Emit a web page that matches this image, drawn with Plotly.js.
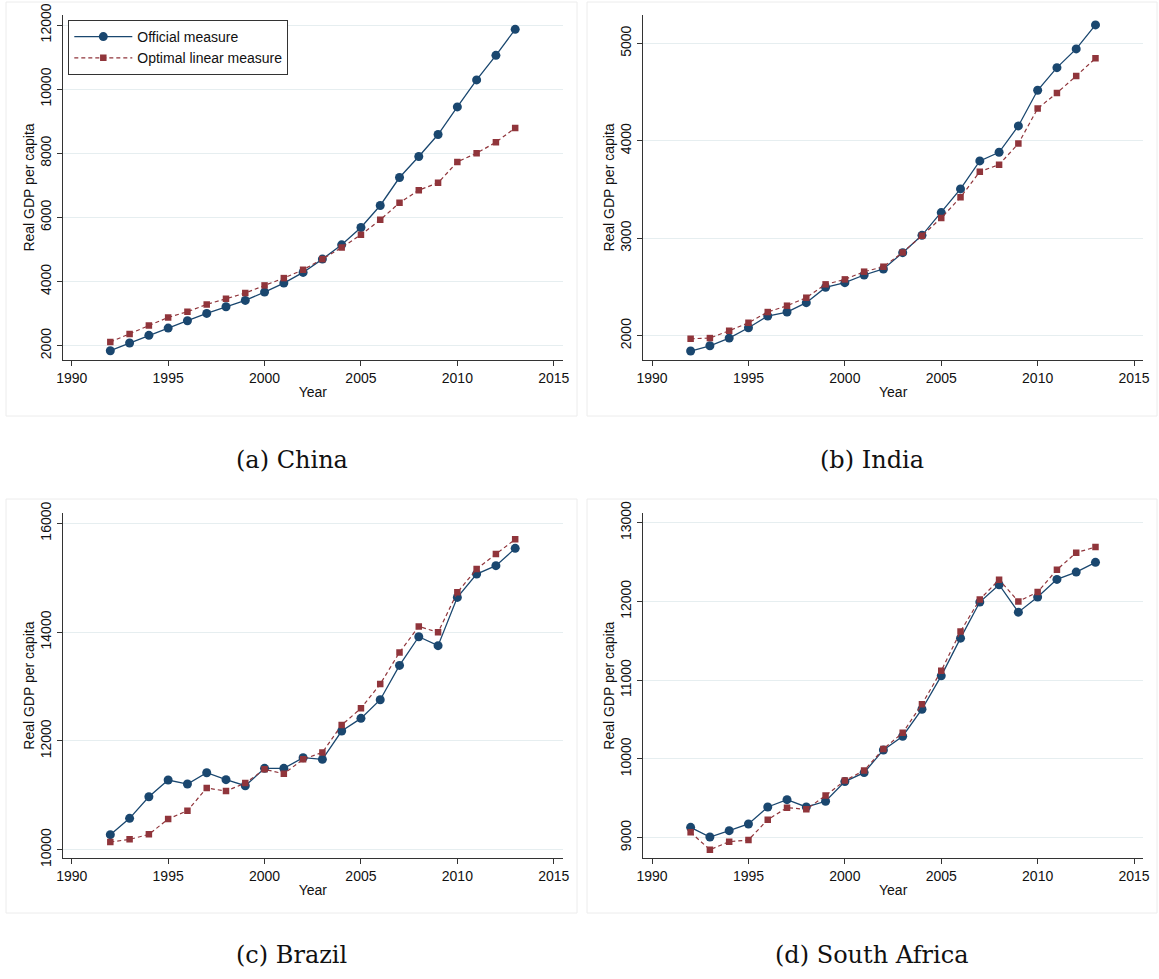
<!DOCTYPE html>
<html>
<head>
<meta charset="utf-8">
<script src="https://cdn.plot.ly/plotly-3.0.1.min.js"></script>
<style>html,body{margin:0;padding:0;background:#fff;}#chart{width:1159px;height:979px;}</style>
</head>
<body>
<div id="chart"></div>
<script>
// ---- data ----
var years = [1992,1993,1994,1995,1996,1997,1998,1999,2000,2001,2002,2003,2004,2005,2006,2007,2008,2009,2010,2011,2012,2013];

var chinaOfficial = [1844,2083,2322,2550,2779,3007,3215,3412,3672,3952,4285,4700,5146,5686,6372,7244,7898,8584,9445,10287,11055,11865];
var chinaOptimal  = [2114,2363,2633,2883,3059,3288,3464,3641,3880,4108,4368,4700,5063,5458,5925,6455,6849,7078,7732,8002,8345,8791];

var indiaOfficial = [1843,1897,1976,2082,2202,2243,2339,2496,2544,2623,2685,2852,3030,3263,3506,3793,3882,4152,4518,4750,4942,5188];
var indiaOptimal  = [1969,1976,2051,2133,2243,2308,2390,2527,2578,2657,2708,2855,3026,3208,3420,3683,3755,3971,4330,4491,4665,4846];

var brazilOfficial = [10276,10576,10974,11281,11207,11415,11287,11176,11495,11495,11691,11661,12181,12414,12757,13388,13915,13750,14638,15067,15221,15539];
var brazilOptimal  = [10141,10190,10282,10564,10717,11134,11078,11225,11477,11397,11661,11789,12292,12598,13045,13627,14105,13995,14730,15159,15435,15705];

var saOfficial = [9131,9008,9089,9174,9390,9483,9390,9462,9712,9826,10114,10288,10631,11055,11534,11992,12212,11864,12055,12280,12373,12496];
var saOptimal  = [9068,8847,8949,8970,9229,9381,9360,9534,9725,9852,10127,10331,10695,11119,11619,12025,12275,12000,12119,12403,12619,12691];

var seriesNames = ["Official measure", "Optimal linear measure"];
var captions = ["(a) China", "(b) India", "(c) Brazil", "(d) South Africa"];
var xTicks = [1990,1995,2000,2005,2010,2015];
var yTicksChina = [2000,4000,6000,8000,10000,12000];
var yTicksIndia = [2000,3000,4000,5000];
var yTicksBrazil = [10000,12000,14000,16000];
var yTicksSA = [9000,10000,11000,12000,13000];
var xTitle = "Year";
var yTitle = "Real GDP per capita";

// ---- styling ----
var W = 1159, H = 979;
var NAVY = "#1a476f", MAROON = "#90353b";
var panels = [
  {off: chinaOfficial, opt: chinaOptimal, yt: yTicksChina, yr: [1554, 12312]},
  {off: indiaOfficial, opt: indiaOptimal, yt: yTicksIndia, yr: [1751, 5290]},
  {off: brazilOfficial, opt: brazilOptimal, yt: yTicksBrazil, yr: [9842, 16189]},
  {off: saOfficial, opt: saOptimal, yt: yTicksSA, yr: [8738, 13123]}
];
// pixel boxes of axes (left, right, top, bottom)
var boxes = [
  [62.7, 563, 15, 360],
  [643, 1143.3, 15, 360],
  [62.7, 563, 513, 858.3],
  [643, 1143.3, 513, 858.3]
];
var frames = [[6,577,2,416],[587,1157,2,416],[6,577,499,913],[587,1157,499,913]];
var capPos = [[291.5,459.5],[872,459.5],[291.5,955],[872,955]];

var traces = [];
var layout = {
  width: W, height: H,
  margin: {l:0, r:0, t:0, b:0},
  paper_bgcolor: "#fff", plot_bgcolor: "#fff",
  font: {family: "Liberation Sans, Arial, sans-serif", size: 14, color: "#111"},
  showlegend: true,
  legend: {
    x: 68.3/W, y: 1 - 20/H, xanchor: "left", yanchor: "top",
    bordercolor: "#333", borderwidth: 1, bgcolor: "#fff",
    font: {size: 14, color: "#111"}, itemwidth: 58, tracegroupgap: 0
  },
  shapes: [], annotations: []
};

panels.forEach(function(p, i){
  var n = i === 0 ? "" : String(i+1);
  var b = boxes[i];
  traces.push({
    x: years, y: p.off, type: "scatter", mode: "lines+markers",
    name: seriesNames[0], showlegend: i === 0, legendgroup: "off",
    xaxis: "x"+n, yaxis: "y"+n,
    line: {color: NAVY, width: 1.3},
    marker: {symbol: "circle", size: 9, color: NAVY}
  });
  traces.push({
    x: years, y: p.opt, type: "scatter", mode: "lines+markers",
    name: seriesNames[1], showlegend: i === 0, legendgroup: "opt",
    xaxis: "x"+n, yaxis: "y"+n,
    line: {color: MAROON, width: 1.2, dash: "4px,3px"},
    marker: {symbol: "square", size: 6.5, color: MAROON}
  });
  layout["xaxis"+n] = {
    domain: [b[0]/W, b[1]/W], anchor: "y"+n,
    range: [1989.53, 2015.48], tickmode: "array", tickvals: xTicks,
    tickformat: "d",
    ticks: "outside", ticklen: 5, tickcolor: "#333", tickwidth: 1,
    showline: true, linecolor: "#333", linewidth: 1,
    showgrid: false, zeroline: false,
    tickfont: {size: 14, color: "#111"},
    title: {text: xTitle, font: {size: 14, color: "#111"}, standoff: 2},
    automargin: false
  };
  layout["yaxis"+n] = {
    domain: [1 - b[3]/H, 1 - b[2]/H], anchor: "x"+n,
    range: p.yr, tickmode: "array", tickvals: p.yt,
    tickformat: "d",
    ticks: "outside", ticklen: 5, tickcolor: "#333", tickwidth: 1,
    tickangle: -90,
    showline: true, linecolor: "#333", linewidth: 1,
    showgrid: true, gridcolor: "#e6eef0", gridwidth: 1, zeroline: false,
    tickfont: {size: 14, color: "#111"},
    title: {text: yTitle, font: {size: 14, color: "#111"}, standoff: 0},
    automargin: false
  };
  var f = frames[i];
  layout.shapes.push({
    type: "rect", xref: "paper", yref: "paper", layer: "below",
    x0: f[0]/W, x1: f[1]/W, y0: 1 - f[3]/H, y1: 1 - f[2]/H,
    line: {color: "#ececec", width: 1}, fillcolor: "rgba(0,0,0,0)"
  });
  layout.annotations.push({
    text: captions[i], xref: "paper", yref: "paper",
    x: capPos[i][0]/W, y: 1 - capPos[i][1]/H, xanchor: "center", yanchor: "middle",
    showarrow: false, font: {family: "DejaVu Serif, Liberation Serif, serif", size: 24, color: "#111"}
  });
});

Plotly.newPlot("chart", traces, layout, {displayModeBar: false, staticPlot: true});
</script>
</body>
</html>
